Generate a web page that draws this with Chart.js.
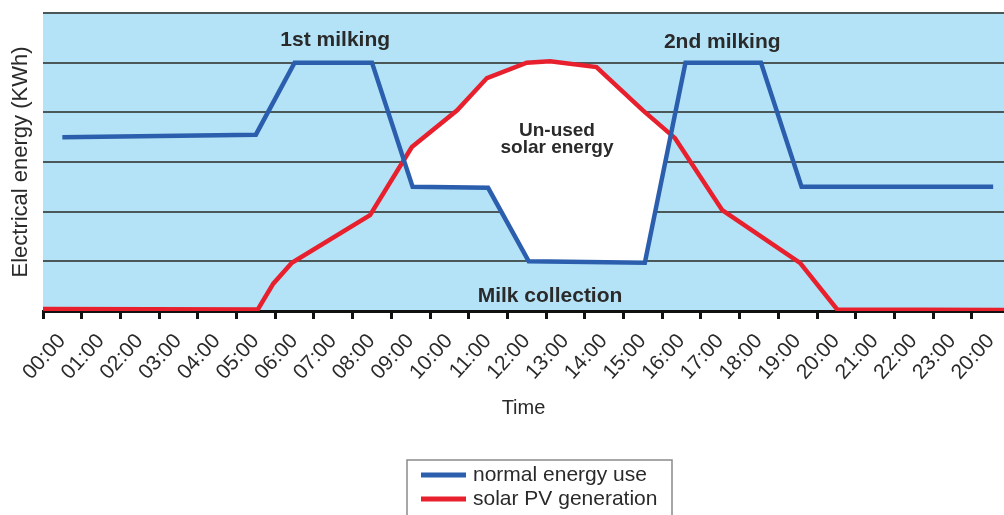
<!DOCTYPE html>
<html lang="en">
<head>
<meta charset="UTF-8">
<title>Dairy energy use vs solar PV</title>
<script src="https://cdn.jsdelivr.net/npm/chart.js"></script>
<style>
    html, body { margin: 0; padding: 0; background: #fff; }
    #wrap { width: 1004px; height: 515px; }
</style>
</head>
<body>
<div id="wrap"><canvas id="energyChart" width="1004" height="515"></canvas></div>
<script>
// tick labels (the last one reads 20:00 in the original)
const timeLabels = ['00:00', '01:00', '02:00', '03:00', '04:00', '05:00', '06:00', '07:00',
    '08:00', '09:00', '10:00', '11:00', '12:00', '13:00', '14:00', '15:00', '16:00', '17:00',
    '18:00', '19:00', '20:00', '21:00', '22:00', '23:00', '20:00'];

// normal energy use (hours, kWh units of the grid)
const usageHours  = [0.5, 5.5, 6.5, 8.5, 9.55, 11.5, 12.55, 15.55, 16.6, 18.55, 19.6, 24.55];
const usageValues = [3.5, 3.55, 5.0, 5.0, 2.5, 2.48, 1.0, 0.97, 5.0, 5.0, 2.5, 2.5];

// solar PV generation
const solarHours  = [0, 5.55, 5.95, 6.43, 8.45, 9.53, 10.7, 11.47, 12.5, 13.1, 14.3, 15.5, 16.33, 17.55, 19.56, 20.52, 24.9];
const solarValues = [0.04, 0.03, 0.55, 0.97, 1.93, 3.3, 4.04, 4.69, 5.0, 5.03, 4.91, 4.04, 3.48, 2.03, 0.97, 0.03, 0.02];

const seriesNames = ['normal energy use', 'solar PV generation'];

const FONT = "'Liberation Sans', Arial, Helvetica, sans-serif";
const TEXT = '#2a2a2a';
Chart.defaults.font.family = FONT;
Chart.defaults.color = TEXT;

const toPoints = (xs, ys) => xs.map((x, i) => ({ x: x, y: ys[i] }));

const plotBackground = {
    id: 'plotBackground',
    beforeDraw(chart) {
        const { ctx, chartArea: a } = chart;
        ctx.save();
        ctx.fillStyle = '#b4e3f7';
        ctx.fillRect(a.left, a.top, a.right - a.left, a.bottom - a.top);
        ctx.restore();
    }
};

// text notes placed in data units
const notes = [
    { text: '1st milking', x: 7.55, y: 5.45, font: 'bold 21px ' + FONT },
    { text: '2nd milking', x: 17.55, y: 5.41, font: 'bold 21px ' + FONT },
    { text: 'Un-used', x: 13.28, y: 3.63, font: 'bold 19px ' + FONT },
    { text: 'solar energy', x: 13.28, y: 3.29, font: 'bold 19px ' + FONT },
    { text: 'Milk collection', x: 13.1, y: 0.3, font: 'bold 21px ' + FONT }
];

const chartNotes = {
    id: 'chartNotes',
    afterDatasetsDraw(chart) {
        const { ctx, scales } = chart;
        ctx.save();
        ctx.fillStyle = TEXT;
        ctx.textAlign = 'center';
        ctx.textBaseline = 'middle';
        notes.forEach(n => {
            ctx.font = n.font;
            ctx.fillText(n.text, scales.x.getPixelForValue(n.x), scales.y.getPixelForValue(n.y));
        });
        ctx.restore();
    }
};

// boxed legend below the axis title, one entry per row
const boxLegend = {
    id: 'boxLegend',
    afterDraw(chart) {
        const ctx = chart.ctx;
        const left = 407, top = 460;
        ctx.save();
        ctx.strokeStyle = '#8a8a8a';
        ctx.lineWidth = 1.5;
        ctx.strokeRect(left, top, 265, 80);
        ctx.font = '21px ' + FONT;
        ctx.textBaseline = 'middle';
        chart.data.datasets.forEach((ds, i) => {
            const y = top + 15 + i * 24;
            ctx.strokeStyle = ds.borderColor;
            ctx.lineWidth = 5;
            ctx.beginPath();
            ctx.moveTo(left + 14, y);
            ctx.lineTo(left + 59, y);
            ctx.stroke();
            ctx.fillStyle = TEXT;
            ctx.fillText(ds.label, left + 66, y);
        });
        ctx.restore();
    }
};

new Chart(document.getElementById('energyChart'), {
    type: 'line',
    data: {
        datasets: [
            {
                label: seriesNames[0],
                data: toPoints(usageHours, usageValues),
                borderColor: '#2b5fae',
                borderWidth: 4.5,
                pointRadius: 0,
                fill: false
            },
            {
                label: seriesNames[1],
                data: toPoints(solarHours, solarValues),
                borderColor: '#e8202e',
                borderWidth: 4.5,
                pointRadius: 0,
                fill: { target: 0, above: '#ffffff', below: 'rgba(0,0,0,0)' }
            }
        ]
    },
    options: {
        responsive: false,
        animation: false,
        devicePixelRatio: 1,
        layout: { padding: { left: 0, right: 0, top: 13, bottom: 91 } },
        plugins: {
            legend: { display: false },
            tooltip: { enabled: false }
        },
        scales: {
            x: {
                type: 'linear',
                min: 0,
                max: 24.83,
                afterBuildTicks: s => { s.ticks = timeLabels.map((_, i) => ({ value: i })); },
                afterFit: s => { s.height = 113; s.paddingLeft = 0; s.paddingRight = 0; },
                ticks: {
                    autoSkip: false,
                    minRotation: 48,
                    maxRotation: 48,
                    labelOffset: 19,
                    padding: 10,
                    color: TEXT,
                    font: { size: 21 },
                    callback: (v, i) => timeLabels[i]
                },
                grid: { drawOnChartArea: false, drawTicks: true, tickLength: 8, color: '#111', lineWidth: 3 },
                border: { color: '#111', width: 3 },
                title: { display: true, text: 'Time', color: TEXT, font: { size: 20 } }
            },
            y: {
                min: 0,
                max: 6,
                afterFit: s => { s.width = 43; s.paddingTop = 0; s.paddingBottom = 0; },
                ticks: { display: false, stepSize: 1 },
                grid: { color: '#4a5859', lineWidth: 2, drawTicks: false },
                border: { display: false },
                title: { display: true, text: 'Electrical energy (KWh)', color: TEXT, font: { size: 22 }, padding: { top: 8, bottom: 0 } }
            }
        }
    },
    plugins: [plotBackground, chartNotes, boxLegend]
});
</script>
</body>
</html>
